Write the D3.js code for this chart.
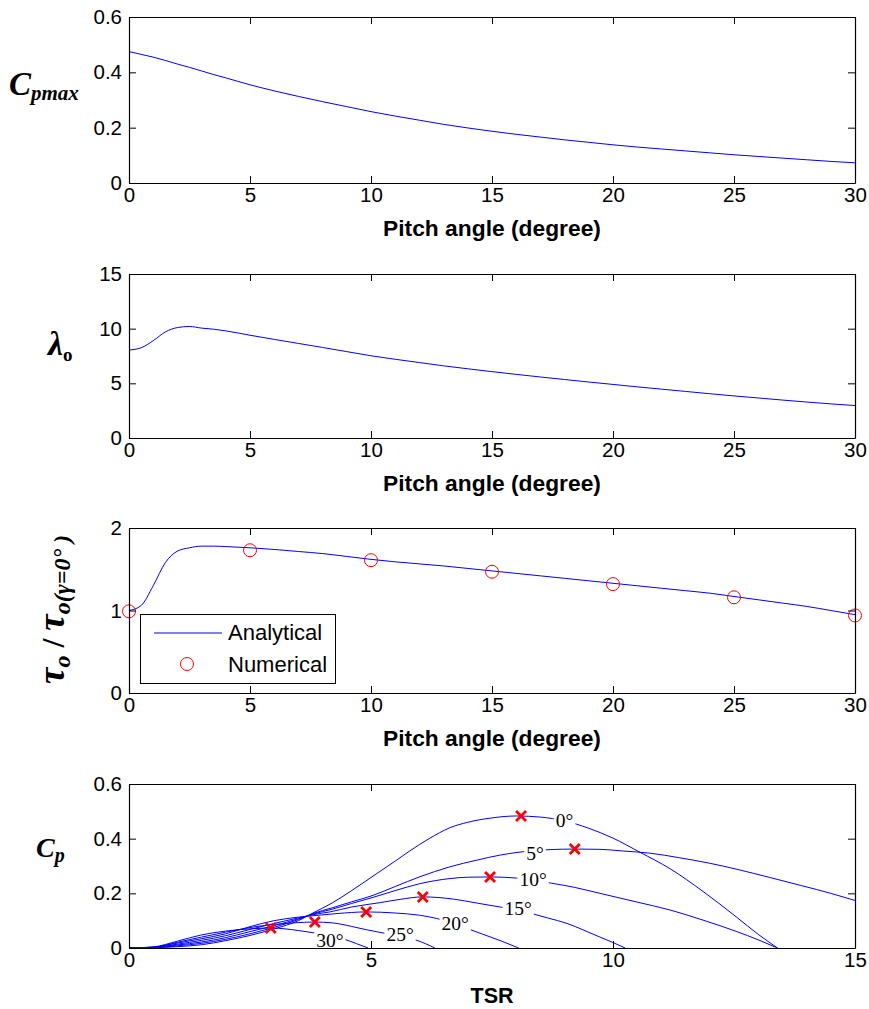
<!DOCTYPE html>
<html><head><meta charset="utf-8">
<script src="https://cdn.jsdelivr.net/npm/d3@7"></script>
<style>body{margin:0;background:#fff}svg{display:block}</style>
</head><body><svg id="c" width="869" height="1009"></svg>
<script>
// ---------- data ----------
const pitch = [0,0.5,1,1.5,2,2.5,3,3.5,4,5,6,7,8,9,10,11,12,13,14,15,16,17,18,19,20,21,22,23,24,25,26,27,28,29,30];
const cpmax = [0.475,0.465,0.455,0.443,0.43,0.418,0.405,0.392,0.38,0.355,0.333,0.313,0.294,0.276,0.258,0.242,0.227,0.212,0.199,0.187,0.176,0.166,0.156,0.147,0.138,0.13,0.123,0.116,0.109,0.102,0.096,0.09,0.084,0.078,0.073];
const lambdaOpt = [8.05,8.25,8.9,9.7,10.1,10.2,10.05,9.95,9.8,9.4,9.02,8.65,8.28,7.9,7.52,7.2,6.9,6.6,6.33,6.07,5.82,5.58,5.35,5.12,4.9,4.68,4.47,4.26,4.05,3.85,3.66,3.47,3.29,3.12,2.97];
const torqueRatio = [1.0,1.06,1.3,1.58,1.72,1.76,1.78,1.78,1.775,1.76,1.74,1.715,1.69,1.655,1.62,1.59,1.565,1.54,1.51,1.48,1.45,1.42,1.39,1.36,1.33,1.30,1.27,1.24,1.21,1.17,1.13,1.09,1.05,1.0,0.95];
const numPitch = [0,5,10,15,20,25,30];
const numTorque = [0.99,1.73,1.61,1.47,1.32,1.16,0.94];

const pitchTicks = [0,5,10,15,20,25,30];
const cpmaxTicks = [0,0.2,0.4,0.6];
const lambdaTicks = [0,5,10,15];
const torqueTicks = [0,1,2];
const tsrTicks = [0,5,10,15];
const cpTicks = [0,0.2,0.4,0.6];

// Cp(TSR) curves for each pitch angle
const tsr0  = [0,0.5,1,1.5,2,2.5,3,3.5,3.8,4.2,4.6,5,5.5,5.8,6.2,6.63,7,7.5,8,8.5,9,9.5,10,10.56,11.18,11.86,12.56,13,13.4];
const cp0   = [0,0.001,0.005,0.012,0.027,0.046,0.07,0.1,0.128,0.165,0.21,0.258,0.318,0.355,0.4,0.44,0.46,0.476,0.483,0.479,0.465,0.438,0.402,0.35,0.29,0.207,0.112,0.05,0];
const tsr5  = [0,0.5,1,1.5,2,2.5,3,3.5,3.8,4.2,4.6,5,5.5,6,6.63,7.2,7.67,8.08,8.7,9.21,9.73,10.2,10.76,11.38,12,12.56,13.24,13.9,14.5,15];
const cp5   = [0,0.001,0.008,0.017,0.032,0.052,0.076,0.104,0.126,0.147,0.169,0.19,0.225,0.26,0.297,0.322,0.34,0.351,0.36,0.362,0.361,0.355,0.347,0.33,0.31,0.288,0.258,0.228,0.2,0.174];
const tsr10 = [0,0.5,1,1.5,2,2.5,3,3.5,3.8,4.2,4.6,5,5.5,6,6.63,7,7.46,8,8.7,9.2,9.73,10.5,11.18,11.86,12.56,13,13.4];
const cp10  = [0,0.002,0.011,0.022,0.038,0.06,0.082,0.107,0.124,0.142,0.163,0.183,0.21,0.235,0.254,0.259,0.26,0.256,0.238,0.222,0.2,0.168,0.139,0.102,0.06,0.03,0];
const tsr15 = [0,0.5,1,1.5,2,2.5,3,3.5,3.8,4.15,4.6,5.19,5.6,6.07,6.7,7.2,7.67,8,8.28,8.65,9.05,9.4,9.73,10,10.25];
const cp15  = [0,0.002,0.014,0.028,0.045,0.068,0.09,0.11,0.122,0.132,0.15,0.166,0.178,0.187,0.179,0.164,0.15,0.14,0.128,0.11,0.09,0.065,0.04,0.02,0];
const tsr20 = [0,0.5,1,1.5,2,2.5,3,3.5,3.8,4.3,4.9,5.5,6,6.36,6.7,6.9,7.3,7.7,8.05];
const cp20  = [0,0.003,0.018,0.034,0.052,0.078,0.1,0.113,0.118,0.126,0.132,0.128,0.12,0.108,0.09,0.077,0.051,0.025,0];
const tsr25 = [0,0.5,1,1.5,2,2.5,3,3.5,3.84,4.2,4.6,4.9,5.25,5.6,5.95,6.32];
const cp25  = [0,0.003,0.021,0.04,0.058,0.075,0.086,0.093,0.095,0.092,0.079,0.067,0.055,0.044,0.028,0];
const tsr30 = [0,0.5,1,1.5,2,2.5,2.95,3.5,3.8,4.1,4.4,4.7,4.94];
const cp30  = [0,0.004,0.025,0.048,0.062,0.07,0.073,0.064,0.056,0.047,0.035,0.016,0];

const markerTSR = [8.1,9.21,7.46,6.07,4.9,3.84,2.93];
const markerCp  = [0.483,0.362,0.26,0.187,0.132,0.095,0.073];

const curveLabels = ["0°","5°","10°","15°","20°","25°","30°"];
const labelTSR = [9.0,8.39,8.35,8.04,6.74,5.6,4.15];
const labelCp  = [0.468,0.344,0.252,0.146,0.091,0.048,0.029];

// ---------- drawing ----------
const svg = d3.select("#c");
const L = 129, R = 855;
const TICKFONT = "Liberation Sans, Arial, sans-serif";
const SERIF = "Liberation Serif, Times New Roman, serif";
let clipId = 0;

function panel(top, bottom, xd, yd, xt, yt) {
  const x = d3.scaleLinear(xd, [L, R]);
  const y = d3.scaleLinear(yd, [bottom, top]);
  const id = "clip" + (clipId++);
  svg.append("clipPath").attr("id", id).append("rect")
    .attr("x", L).attr("y", top).attr("width", R - L).attr("height", bottom - top);
  const g = svg.append("g").attr("clip-path", `url(#${id})`);
  const fg = svg.append("g");
  function axes() {
    const style = sel => {
      sel.select(".domain").attr("stroke", "#000").attr("stroke-width", 1.2);
      sel.selectAll(".tick line").attr("stroke", "#000").attr("stroke-width", 1);
      sel.selectAll(".tick text").attr("font-family", TICKFONT).attr("font-size", 20.5).attr("fill", "#000");
    };
    fg.append("g").attr("transform", `translate(0,${bottom})`)
      .call(d3.axisBottom(x).tickValues(xt).tickSizeInner(-7).tickSizeOuter(0).tickPadding(4).tickFormat(d3.format("~g")))
      .call(style);
    fg.append("g").attr("transform", `translate(0,${top})`)
      .call(d3.axisTop(x).tickValues(xt).tickSizeInner(-7).tickSizeOuter(0).tickFormat(""))
      .call(style);
    fg.append("g").attr("transform", `translate(${L},0)`)
      .call(d3.axisLeft(y).tickValues(yt).tickSizeInner(-7).tickSizeOuter(0).tickPadding(7).tickFormat(d3.format("~g")))
      .call(style);
    fg.append("g").attr("transform", `translate(${R},0)`)
      .call(d3.axisRight(y).tickValues(yt).tickSizeInner(-7).tickSizeOuter(0).tickFormat(""))
      .call(style);
  }
  return { x, y, g, fg, axes, top, bottom };
}

function xlabel(p, text, dy, size) {
  svg.append("text").attr("x", (L + R) / 2).attr("y", p.bottom + dy)
    .attr("text-anchor", "middle").attr("font-family", TICKFONT)
    .attr("font-weight", "bold").attr("font-size", size).text(text);
}

const blue = "#0000ff", red = "#ff0000";

// Panel 1: Cpmax
const p1 = panel(17, 183, [0, 30], [0, 0.6], pitchTicks, cpmaxTicks);
p1.g.append("path").datum(pitch.map((d, i) => [d, cpmax[i]]))
  .attr("fill", "none").attr("stroke", blue).attr("stroke-width", 1)
  .attr("d", d3.line().x(d => p1.x(d[0])).y(d => p1.y(d[1])).curve(d3.curveMonotoneX));
p1.axes();
xlabel(p1, "Pitch angle (degree)", 53, 22.8);
{
  const t = svg.append("text").attr("x", 9).attr("y", 95)
    .attr("font-family", SERIF).attr("font-weight", "bold").attr("font-style", "italic");
  t.append("tspan").attr("font-size", 33).text("C");
  t.append("tspan").attr("font-size", 21).attr("dy", 5).text("pmax");
}

// Panel 2: lambda_o
const p2 = panel(274, 438, [0, 30], [0, 15], pitchTicks, lambdaTicks);
p2.g.append("path").datum(pitch.map((d, i) => [d, lambdaOpt[i]]))
  .attr("fill", "none").attr("stroke", blue).attr("stroke-width", 1)
  .attr("d", d3.line().x(d => p2.x(d[0])).y(d => p2.y(d[1])).curve(d3.curveMonotoneX));
p2.axes();
xlabel(p2, "Pitch angle (degree)", 53, 22.8);
{
  const t = svg.append("text").attr("x", 48).attr("y", 355)
    .attr("font-family", SERIF).attr("font-weight", "bold").attr("font-style", "italic");
  t.append("tspan").attr("font-size", 34).text("λ");
  t.append("tspan").attr("font-size", 19).attr("dy", 6).attr("font-style", "normal").text("o");
}

// Panel 3: torque ratio
const p3 = panel(528, 693, [0, 30], [0, 2], pitchTicks, torqueTicks);
p3.g.append("path").datum(pitch.map((d, i) => [d, torqueRatio[i]]))
  .attr("fill", "none").attr("stroke", blue).attr("stroke-width", 1)
  .attr("d", d3.line().x(d => p3.x(d[0])).y(d => p3.y(d[1])).curve(d3.curveMonotoneX));
p3.fg.selectAll("circle.num").data(numPitch).join("circle").attr("class", "num")
  .attr("cx", d => p3.x(d)).attr("cy", (d, i) => p3.y(numTorque[i])).attr("r", 6.5)
  .attr("fill", "none").attr("stroke", red).attr("stroke-width", 1);
p3.axes();
xlabel(p3, "Pitch angle (degree)", 53, 22.8);
{
  const t = svg.append("text").attr("transform", "translate(64,684) rotate(-90)")
    .attr("font-family", SERIF).attr("font-weight", "bold").attr("font-style", "italic");
  t.append("tspan").attr("font-size", 37).text("τ");
  t.append("tspan").attr("font-size", 24).attr("dy", 6).text("o");
  t.append("tspan").attr("font-size", 32).attr("dy", -6).attr("font-style", "normal").text(" / ");
  t.append("tspan").attr("font-size", 37).text("τ");
  t.append("tspan").attr("font-size", 24).attr("dy", 6).text("o(γ=0° )");
  // legend
  const lg = svg.append("g");
  lg.append("rect").attr("x", 140.5).attr("y", 614.5).attr("width", 195).attr("height", 69)
    .attr("fill", "#fff").attr("stroke", "#000").attr("stroke-width", 1);
  lg.append("line").attr("x1", 154).attr("x2", 222).attr("y1", 633).attr("y2", 633)
    .attr("stroke", blue).attr("stroke-width", 1);
  lg.append("circle").attr("cx", 187).attr("cy", 664).attr("r", 6.5)
    .attr("fill", "none").attr("stroke", red).attr("stroke-width", 1);
  lg.append("text").attr("x", 228).attr("y", 640).attr("font-family", TICKFONT).attr("font-size", 22).text("Analytical");
  lg.append("text").attr("x", 228).attr("y", 672).attr("font-family", TICKFONT).attr("font-size", 22).text("Numerical");
}

// Panel 4: Cp vs TSR
const p4 = panel(784, 948, [0, 15], [0, 0.6], tsrTicks, cpTicks);
const curves = [[tsr0, cp0], [tsr5, cp5], [tsr10, cp10], [tsr15, cp15], [tsr20, cp20], [tsr25, cp25], [tsr30, cp30]];
const cpLine = d3.line().x(d => p4.x(d[0])).y(d => p4.y(d[1])).curve(d3.curveMonotoneX);
curves.forEach(([xs, ys]) => {
  p4.g.append("path").datum(xs.map((d, i) => [d, ys[i]]))
    .attr("fill", "none").attr("stroke", blue).attr("stroke-width", 1).attr("d", cpLine);
});
// contour-style labels with gaps
curveLabels.forEach((lab, i) => {
  const cx = p4.x(labelTSR[i]), cy = p4.y(labelCp[i]);
  const tmp = p4.g.append("text").attr("x", cx).attr("y", cy).attr("text-anchor", "middle")
    .attr("dominant-baseline", "central").attr("font-family", SERIF).attr("font-size", 19.5).text(lab);
  const bb = tmp.node().getBBox();
  p4.g.insert("rect", "text").attr("x", bb.x - 2).attr("y", bb.y + 2).attr("width", bb.width + 4).attr("height", bb.height - 4)
    .attr("fill", "#fff");
});
p4.g.selectAll("text").raise();
// red x markers
const xs = 5;
markerTSR.forEach((t, i) => {
  const cx = p4.x(t), cy = p4.y(markerCp[i]);
  p4.fg.append("path").attr("d", `M${cx - xs},${cy - xs}L${cx + xs},${cy + xs}M${cx - xs},${cy + xs}L${cx + xs},${cy - xs}`)
    .attr("stroke", red).attr("stroke-width", 2.8).attr("fill", "none");
});
p4.axes();
xlabel(p4, "TSR", 55, 21.5);
{
  const t = svg.append("text").attr("x", 36).attr("y", 857)
    .attr("font-family", SERIF).attr("font-weight", "bold").attr("font-style", "italic");
  t.append("tspan").attr("font-size", 28).text("C");
  t.append("tspan").attr("font-size", 20).attr("dy", 5).text("p");
}
</script></body></html>
